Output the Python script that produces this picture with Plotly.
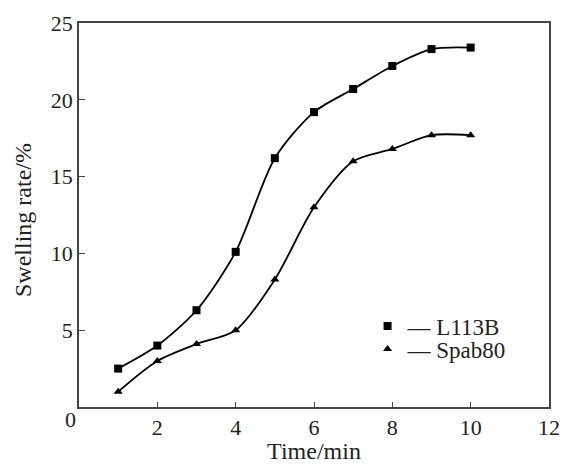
import plotly.graph_objects as go

time_min = [1, 2, 3, 4, 5, 6, 7, 8, 9, 10]
l113b = [2.5, 4.0, 6.3, 10.1, 16.2, 19.2, 20.7, 22.2, 23.3, 23.4]
spab80 = [1.0, 3.0, 4.1, 5.0, 8.3, 13.0, 16.0, 16.8, 17.7, 17.7]
x_ticks = [2, 4, 6, 8, 10, 12]
y_ticks = [5, 10, 15, 20, 25]

FONT = "Liberation Serif, Times New Roman, serif"
AX = "#444444"
TXT = "#222222"

fig = go.Figure()
series = [("L113B", l113b, "square", "legend", 0.211),
          ("Spab80", spab80, "triangle-up", "legend2", 0.151)]
legends = {}
for name, vals, sym, leg, ly in series:
    fig.add_trace(go.Scatter(x=time_min, y=vals, mode="lines",
                             line=dict(shape="spline", smoothing=0.8, color="black", width=1.8),
                             showlegend=False, hoverinfo="skip"))
    fig.add_trace(go.Scatter(x=time_min, y=vals, mode="markers", name="\u2014 " + name,
                             legend=leg,
                             marker=dict(symbol=sym, size=8, color="black")))
    legends[leg] = dict(x=0.614, y=ly, xanchor="left", yanchor="middle",
                        bgcolor="rgba(0,0,0,0)", font=dict(size=23, family=FONT, color=TXT),
                        itemwidth=30)

fig.update_layout(
    width=563, height=464,
    margin=dict(l=79, r=14, t=23, b=57, autoexpand=False),
    paper_bgcolor="white", plot_bgcolor="white",
    font=dict(family=FONT, size=22, color=TXT),
    legend=legends["legend"], legend2=legends["legend2"],
    xaxis=dict(range=[0, 12], tickvals=x_ticks, ticks="inside", ticklen=5,
               tickcolor=AX, showline=True, linecolor=AX, linewidth=1.5, mirror=True,
               showgrid=False, zeroline=False, tickfont=dict(size=22), automargin=False,
               title=dict(text="Time/min", font=dict(size=24), standoff=0)),
    yaxis=dict(range=[0, 25], tickvals=y_ticks, ticks="inside", ticklen=6,
               tickcolor=AX, showline=True, linecolor=AX, linewidth=1.5, mirror=True,
               showgrid=False, zeroline=False, tickfont=dict(size=22), automargin=False),
)
fig.add_annotation(x=0, y=0.487, xref="paper", yref="paper", text="Swelling rate/%",
                   showarrow=False, textangle=-90, xanchor="center", yanchor="middle",
                   xshift=-56, font=dict(size=24, family=FONT, color=TXT))
fig.add_annotation(x=0, y=0, xref="x", yref="y", text="0", showarrow=False,
                   xanchor="right", yanchor="top", xshift=-1, yshift=2,
                   font=dict(size=22, family=FONT, color=TXT))

fig.write_html("out.html", config={"displayModeBar": False},
               post_script="document.body.style.margin='0px';")
